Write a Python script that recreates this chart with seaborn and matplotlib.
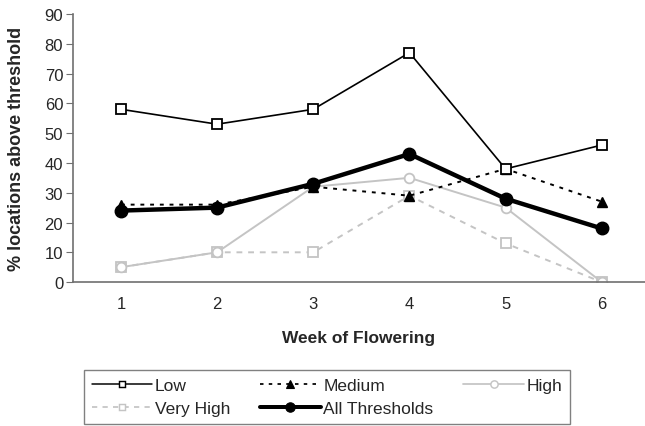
import numpy as np
import pandas as pd
import matplotlib
matplotlib.use("Agg")
import matplotlib.pyplot as plt
import seaborn as sns

weeks = [1, 2, 3, 4, 5, 6]
low = [58, 53, 58, 77, 38, 46]
medium = [26, 26, 32, 29, 38, 27]
high = [5, 10, 32, 35, 25, 0]
very_high = [5, 10, 10, 29, 13, 0]
all_thresholds = [24, 25, 33, 43, 28, 18]

sns.set_style("white")
plt.rcParams['font.family'] = ['Liberation Sans', 'DejaVu Sans']

df = pd.DataFrame({
    'week': weeks * 5,
    'value': low + medium + high + very_high + all_thresholds,
    'series': (['Low'] * 6 + ['Medium'] * 6 + ['High'] * 6
               + ['Very High'] * 6 + ['All Thresholds'] * 6),
})

# line styles per series
styles = {
    'Low': dict(color='black', lw=1.2, ls='-', marker='s', ms=6.5,
                mfc='white', mec='black', mew=1.3),
    'Medium': dict(color='black', lw=1.4, ls=(0, (2, 3)), marker='^', ms=7,
                   mfc='black', mec='black', mew=1),
    'High': dict(color='#c4c4c4', lw=1.4, ls='-', marker='o', ms=7,
                 mfc='white', mec='#c4c4c4', mew=1.3),
    'Very High': dict(color='#c4c4c4', lw=1.4, ls=(0, (3, 3)), marker='s', ms=6.5,
                      mfc='white', mec='#c4c4c4', mew=1.3),
    'All Thresholds': dict(color='black', lw=3.2, ls='-', marker='o', ms=9,
                           mfc='black', mec='black', mew=1),
}
draw_order = ['Very High', 'High', 'Medium', 'Low', 'All Thresholds']

fig = plt.figure(figsize=(6.45, 4.27), dpi=100)
ax = fig.add_axes([0.113, 0.337, 0.887, 0.628])

for name in draw_order:
    st = styles[name]
    sub = df[df['series'] == name]
    sns.lineplot(data=sub, x='week', y='value', ax=ax, color=st['color'],
                 linewidth=st['lw'], linestyle=st['ls'], marker=st['marker'],
                 markersize=st['ms'], markerfacecolor=st['mfc'],
                 markeredgecolor=st['mec'], markeredgewidth=st['mew'],
                 label=name, legend=False)

ax.set_xlim(0.5, 6.45)
ax.set_ylim(0, 90)
ax.set_yticks(range(0, 91, 10))
ax.set_xticks(weeks)
ax.set_xticks(np.arange(1.5, 6.5, 1), minor=True)
ax.tick_params(axis='x', which='major', length=0, labelsize=12, pad=10)
ax.tick_params(axis='x', which='minor', length=4, direction='in', color='#707070')
ax.tick_params(axis='y', length=5, direction='out', color='#707070',
               labelsize=12, pad=2, left=True)
for s in ['top', 'right']:
    ax.spines[s].set_visible(False)
ax.spines['left'].set_color('#707070')
ax.spines['bottom'].set_color('#707070')
ax.spines['left'].set_linewidth(1.2)
ax.spines['bottom'].set_linewidth(1.2)

ax.set_xlabel('Week of Flowering', fontsize=12.5, fontweight='bold', labelpad=14)
ax.set_ylabel('% locations above threshold', fontsize=13, fontweight='bold',
              labelpad=14)

# legend: row-wise Low, Medium, High / Very High, All Thresholds
handles = {}
for name in styles:
    st = styles[name]
    ms = st['ms'] * 0.75
    handles[name] = plt.Line2D([], [], color=st['color'], lw=st['lw'] * 0.9,
                               ls=st['ls'], marker=st['marker'], markersize=ms,
                               markerfacecolor=st['mfc'],
                               markeredgecolor=st['mec'],
                               markeredgewidth=st['mew'] * 0.8)
order = ['Low', 'Very High', 'Medium', 'All Thresholds', 'High']
leg = fig.legend([handles[n] for n in order], order, ncol=3,
                 loc='lower left', bbox_to_anchor=(0.13, 0.005, 0.754, 0.128),
                 mode='expand', fontsize=12.5, frameon=True, fancybox=False,
                 handlelength=3.5, handletextpad=0.15, borderpad=0.45,
                 labelspacing=0.45, columnspacing=1.0, borderaxespad=0)
leg.get_frame().set_edgecolor('#606060')
leg.get_frame().set_linewidth(1.0)

fig.savefig('out.png', dpi=100)
